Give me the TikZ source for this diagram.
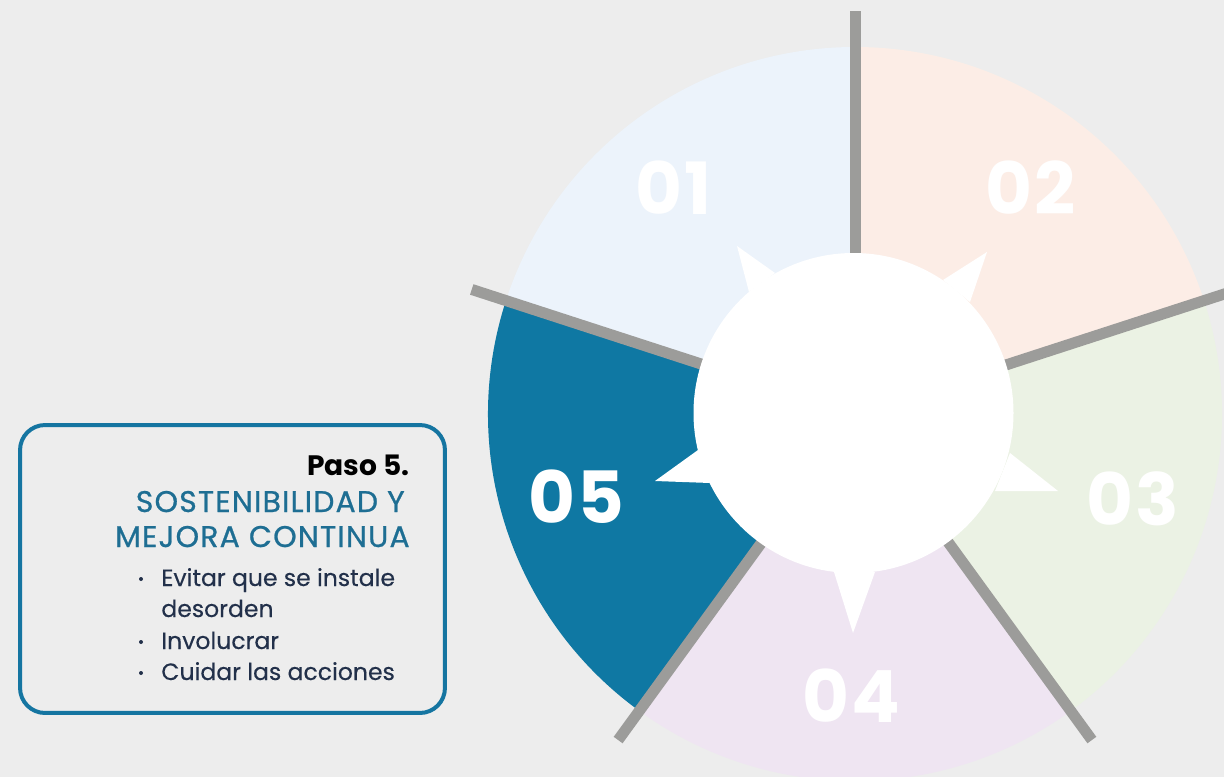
\documentclass[tikz,border=0pt]{standalone}
\usepackage{fontspec}
\setmainfont{Poppins}
\newfontfamily\headfont{Poppins}[LetterSpace=4, FakeBold=0.8]
\newfontfamily\bodyfont{Poppins}[FakeBold=0.3]
\newfontfamily\numfont{Poppins}[LetterSpace=3]
\usetikzlibrary{positioning}

\definecolor{bggray}{HTML}{EDEDED}
\definecolor{seg01}{HTML}{ECF3FB}
\definecolor{seg02}{HTML}{FCEDE6}
\definecolor{seg03}{HTML}{EBF2E4}
\definecolor{seg04}{HTML}{EFE5F2}
\definecolor{seg05}{HTML}{0F78A3}
\definecolor{divgray}{HTML}{9C9C9A}
\definecolor{boxteal}{HTML}{1575A1}
\definecolor{headteal}{HTML}{1E6E93}
\definecolor{bodytext}{HTML}{22304A}

\begin{document}
\begin{tikzpicture}[x=0.02cm, y=-0.02cm,
    divider/.style={line width=0.22cm, color=divgray},
    numlabel/.style={font=\numfont\bfseries\fontsize{41}{41}\selectfont, text=white, inner sep=0pt},
    cardframe/.style={draw=boxteal, line width=0.08cm, rounded corners=0.5cm},
    headline/.style={font=\headfont\fontsize{17}{20}\selectfont, text=headteal, anchor=base east, inner sep=0pt},
    bullettext/.style={font=\bodyfont\fontsize{13.4}{16}\selectfont, text=bodytext, anchor=base west, inner sep=0pt},
    bulletdot/.style={circle, fill=bodytext, inner sep=0pt, minimum size=0.08cm}]

    \fill[bggray] (0,0) rectangle (1224,777);
    \useasboundingbox (0,0) rectangle (1224,777);
    \clip (0,0) rectangle (1224,777);

    % wheel, drawn with the y axis pointing up
    \begin{scope}[shift={(855,414)}, yscale=-1]
        \coordinate (hub) at (0,0);
        \fill[seg01] (hub) -- (90:367) arc[start angle=90, end angle=162, radius=367] -- cycle;
        \fill[seg02] (hub) -- (18:367) arc[start angle=18, end angle=90, radius=367] -- cycle;
        \fill[seg03] (hub) -- (-54:367) arc[start angle=-54, end angle=18, radius=367] -- cycle;
        \fill[seg04] (hub) -- (-126:367) arc[start angle=-126, end angle=-54, radius=367] -- cycle;
        \fill[seg05] (hub) -- (162:367) arc[start angle=162, end angle=234, radius=367] -- cycle;

        \foreach \a in {90,18,-54,-126,162}
            \draw[divider] (hub) -- (\a:403);

        % white hub with its five points
        \fill[white] (-80,141) -- (-118,168) -- (-106,122) -- cycle;
        \fill[white] (88,134) -- (132,162) -- (115,112) -- cycle;
        \fill[white] (155,-39) -- (203,-77) -- (140,-77) -- cycle;
        \fill[white] (-21,-158) -- (-2,-219) -- (20,-158) -- cycle;
        \fill[white] (-157,-36) -- (-200,-67) -- (-145,-69) -- cycle;
        \fill[white] (-1.5,1) circle[radius=160];
    \end{scope}

    \node[numlabel] (n01) at (674,188) {01};
    \node[numlabel] (n02) at (1031,188) {02};
    \node[numlabel] (n03) at (1133,499) {03};
    \node[numlabel] (n04) at (851,696) {04};
    \node[numlabel] (n05) at (576,497) {05};

    % step card
    \node[cardframe, minimum width=8.5cm, minimum height=5.76cm] (card) at (232.5,569) {};

    \node[headline, text=black, font=\bfseries\fontsize{16}{19}\selectfont] (paso) at (410,475) {Paso 5.};
    \node[headline] (head1) at (405,512) {SOSTENIBILIDAD Y};
    \node[headline] (head2) at (410,547) {MEJORA CONTINUA};

    \node[bullettext] (item1) at (161,586) {Evitar que se instale};
    \node[bullettext] (item1b) at (161,617) {desorden};
    \node[bullettext] (item2) at (161,649) {Involucrar};
    \node[bullettext] (item3) at (161,680) {Cuidar las acciones};

    \node[bulletdot] (dot1) at (141,579) {};
    \node[bulletdot] (dot2) at (141,642) {};
    \node[bulletdot] (dot3) at (141,673) {};

\end{tikzpicture}
\end{document}
